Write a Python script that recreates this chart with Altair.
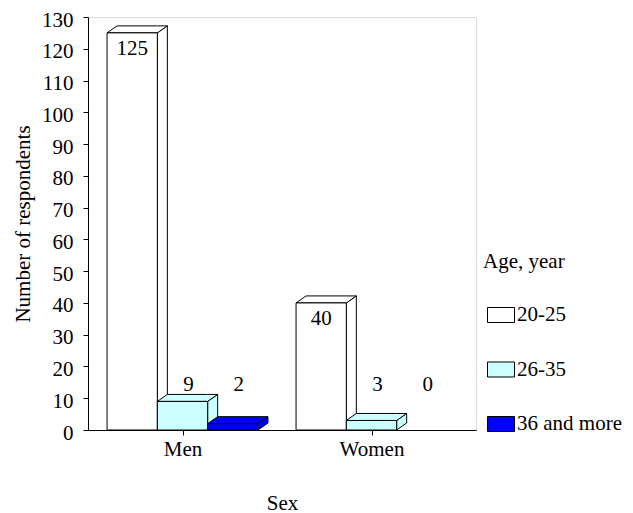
import json
import altair as alt
import pandas as pd

# ---- data ----
categories = ["Men", "Women"]
series = ["20-25", "26-35", "36 and more"]
men_values = [125, 9, 2]
women_values = [40, 3, 0]
colors = ["#FFFFFF", "#CCFFFF", "#0000FF"]
y_ticks = list(range(0, 131, 10))

FONT = "Liberation Serif"
FS = 21

# ---- geometry (styling) ----
W, H = 388, 413
PX_PER_UNIT = 189.0               # pixels per category band
X_MAX = W / PX_PER_UNIT
BW = 50.3 / PX_PER_UNIT           # bar width in x units
DX = 10 / PX_PER_UNIT             # 3D depth, horizontal
DY = 7 * 130 / H                  # 3D depth, vertical (data units)

values_by_cat = [men_values, women_values]

front_rows, side_rows, top_rows = [], [], []
for ci, cat in enumerate(categories):
    center = ci + 0.5
    for si, s in enumerate(series):
        v = values_by_cat[ci][si]
        xl = center - 1.5 * BW + si * BW
        xr = xl + BW
        bid = f"{cat}-{s}"
        front_rows.append(dict(cat=cat, series=s, value=v, xl=xl, xr=xr, bid=bid))
        if v > 0:
            side_rows += [
                dict(bid=bid, series=s, x=xr, lo=0, hi=v),
                dict(bid=bid, series=s, x=xr + DX, lo=DY, hi=v + DY),
            ]
            top_rows += [
                dict(bid=bid, series=s, x=xl, lo=v, hi=v),
                dict(bid=bid, series=s, x=xl + DX, lo=v, hi=v + DY),
                dict(bid=bid, series=s, x=xr, lo=v, hi=v + DY),
                dict(bid=bid, series=s, x=xr + DX, lo=v + DY, hi=v + DY),
            ]

front_df = pd.DataFrame(front_rows)
side_df = pd.DataFrame(side_rows)
top_df = pd.DataFrame(top_rows)

x_scale = alt.Scale(domain=[0, X_MAX], nice=False, zero=False)
y_scale = alt.Scale(domain=[0, 130], nice=False)
fill_scale = alt.Scale(domain=series, range=colors)

x_axis = alt.Axis(
    title="Sex", values=[i + 0.5 for i in range(len(categories))],
    labelExpr=f"{json.dumps(categories)}[floor(datum.value)]",
    labelFont=FONT, labelFontSize=FS, labelColor="black",
    titleFont=FONT, titleFontSize=FS, titleFontWeight="normal", titleColor="black",
    tickSize=5, tickColor="black", domainColor="black", grid=False,
    labelPadding=3, titlePadding=33, labelOverlap=False,
)
y_axis = alt.Axis(
    title="Number of respondents", values=y_ticks, tickCount=14,
    labelFont=FONT, labelFontSize=FS, labelColor="black",
    titleFont=FONT, titleFontSize=FS, titleFontWeight="normal", titleColor="black",
    tickSize=5, tickColor="black", domainColor="black", grid=False,
    labelPadding=10, titlePadding=8, labelOverlap=False, labelOffset=3,
)

legend = alt.Legend(
    title="Age, year", orient="none", legendX=395, legendY=234,
    symbolType="M-1,-0.556L1,-0.556L1,0.556L-1,0.556Z", symbolSize=729,
    symbolStrokeColor="black", symbolStrokeWidth=1,
    labelFont=FONT, labelFontSize=FS, labelColor="black",
    titleFont=FONT, titleFontSize=FS, titleFontWeight="normal", titleColor="black",
    rowPadding=30.5, titlePadding=29, labelOffset=2, symbolOffset=4, padding=0,
)

fill_enc = alt.Fill("series:N", scale=fill_scale, legend=legend)
X_ENC = lambda f: alt.X(f, scale=x_scale, axis=x_axis)
Y_ENC = lambda f: alt.Y(f, scale=y_scale, axis=y_axis)

side = alt.Chart(side_df).mark_area(stroke="black", strokeWidth=1).encode(
    x=X_ENC("x:Q"), y=Y_ENC("hi:Q"), y2="lo:Q", fill=fill_enc, detail="bid:N",
)

top = alt.Chart(top_df).mark_area(stroke="black", strokeWidth=1).encode(
    x=X_ENC("x:Q"), y=Y_ENC("hi:Q"), y2="lo:Q", fill=fill_enc, detail="bid:N",
)

front = alt.Chart(front_df).transform_filter("datum.value > 0").mark_rect(
    stroke="black", strokeWidth=1
).encode(
    x=X_ENC("xl:Q"), x2="xr:Q", y=Y_ENC("value:Q"), y2=alt.Y2(datum=0), fill=fill_enc,
)

labels = alt.Chart(front_df).transform_calculate(
    lx="(datum.xl + datum.xr) / 2 + (datum.value < 20 ? 0.032 : 0)",
    ly="datum.value < 20 ? 14.2 : datum.value - 5",
).mark_text(font=FONT, fontSize=FS, color="black", baseline="middle", align="center").encode(
    x=X_ENC("lx:Q"), y=Y_ENC("ly:Q"), text="value:Q",
)

chart = alt.layer(side, top, front, labels).properties(
    width=W, height=H,
    autosize=alt.AutoSizeParams(type="none"),
    padding={"left": 80, "top": 9, "right": 149, "bottom": 86},
).configure_view(stroke="black", strokeWidth=1).configure_axis(
    labelOverlap=False
).configure(background="white")

chart.save("out.html", embed_options={"renderer": "svg", "actions": False})
